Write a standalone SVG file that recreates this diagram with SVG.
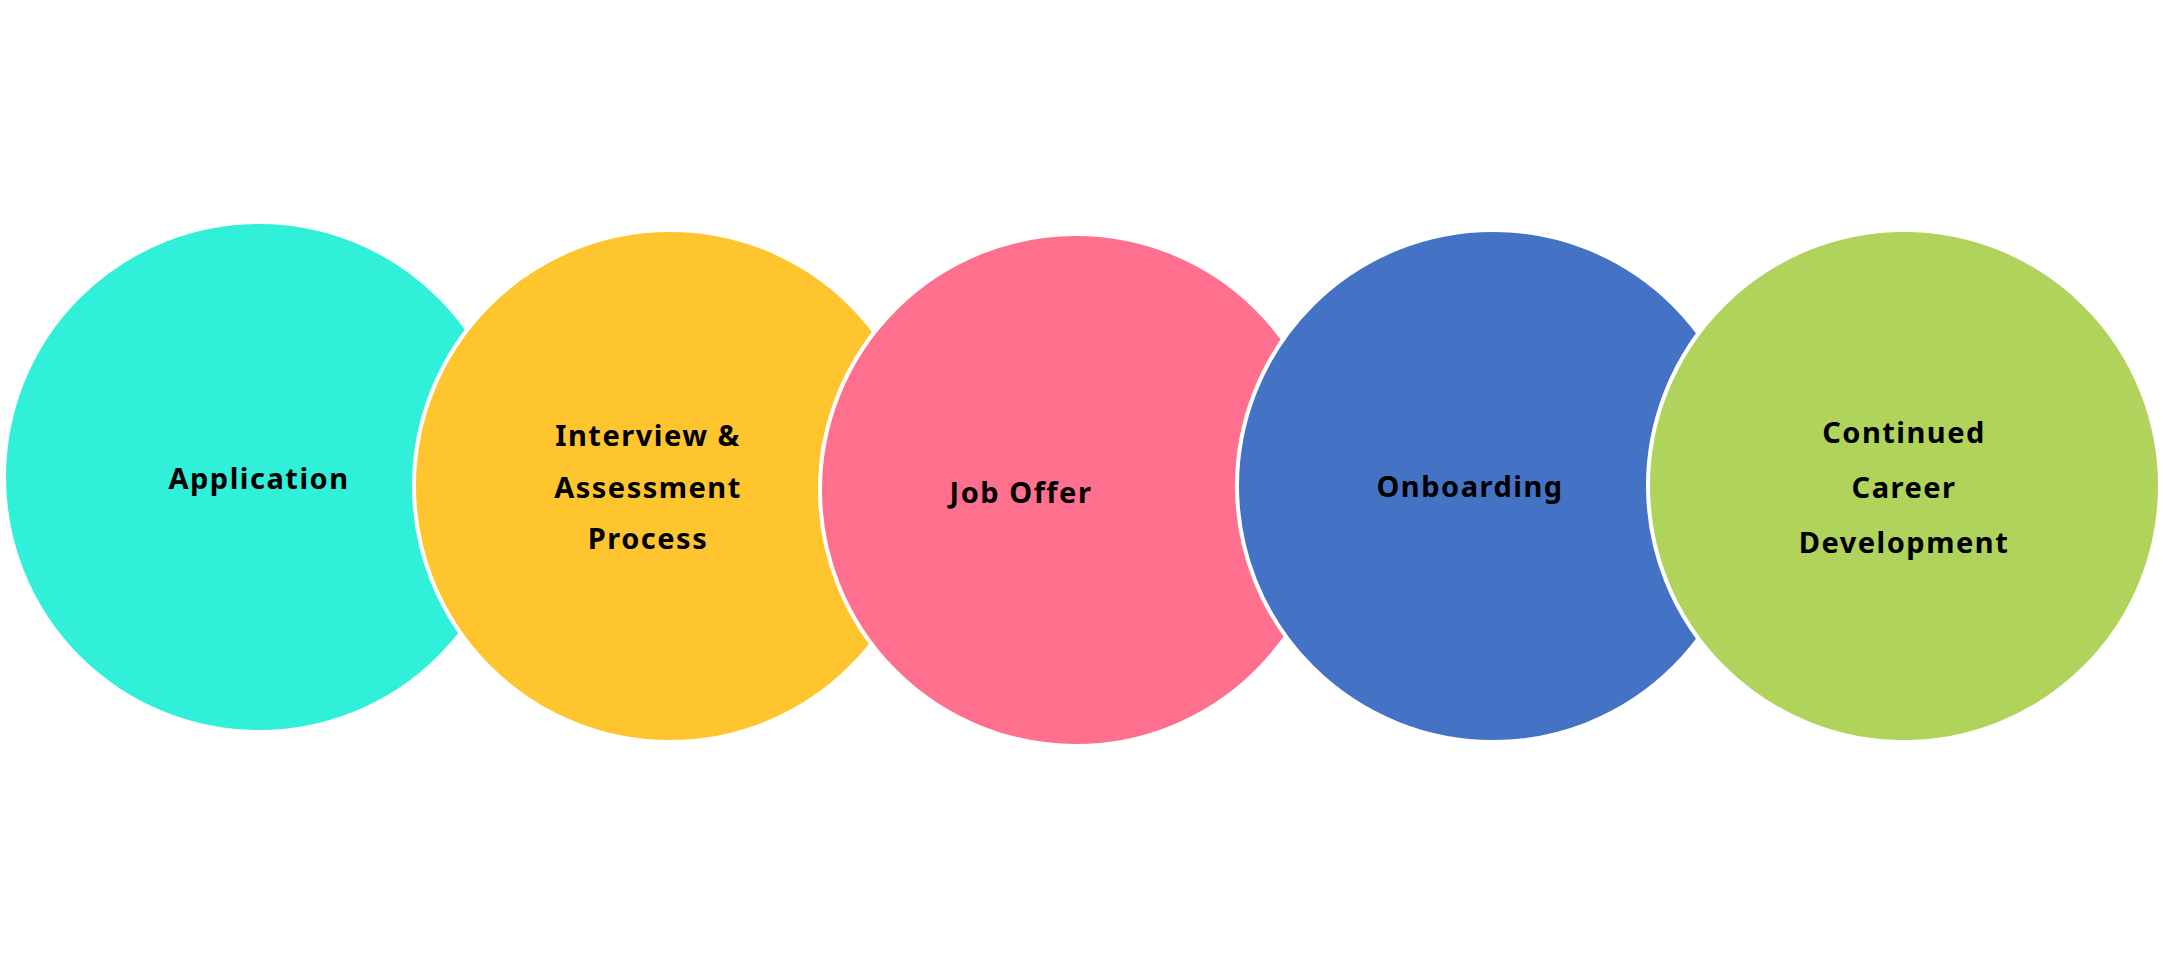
<svg xmlns="http://www.w3.org/2000/svg" width="2163" height="973" viewBox="0 0 2163 973">
<style>
circle{stroke:#fff;stroke-width:4}
text{font-family:"Noto Sans","Liberation Sans",sans-serif;font-weight:700;font-size:29px;fill:#000;text-anchor:middle;dominant-baseline:central;letter-spacing:1.5px}
</style>
<rect width="2163" height="973" fill="#fff"/>
<g id="n1"><circle cx="259" cy="477" r="255" fill="#31F0D9"/><text x="259" y="477">Application</text></g>
<g id="n2"><circle cx="670" cy="486" r="256" fill="#FFC52E"/><text x="648" y="434">Interview &amp;</text><text x="648" y="486">Assessment</text><text x="648" y="537">Process</text></g>
<g id="n3"><circle cx="1076" cy="490" r="256" fill="#FF6F8E"/><text x="1021" y="491">Job Offer</text></g>
<g id="n4"><circle cx="1493" cy="486" r="256" fill="#4472C4"/><text x="1470" y="485">Onboarding</text></g>
<g id="n5"><circle cx="1904" cy="486" r="256" fill="#AFD35B"/><text x="1904" y="431">Continued</text><text x="1904" y="486">Career</text><text x="1904" y="541">Development</text></g>
<g id="connectors"/>
</svg>
